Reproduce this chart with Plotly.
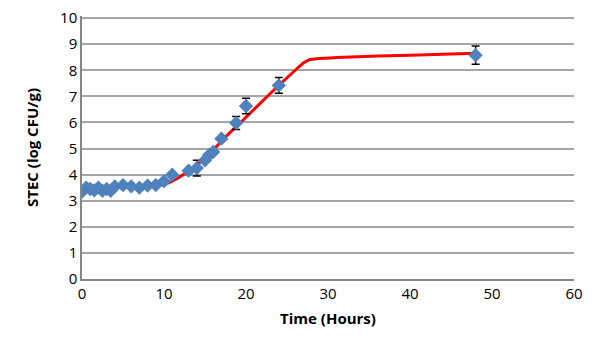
import plotly.graph_objects as go

# Observed data (time in hours, log CFU/g)
obs_time = [0, 0.5, 1, 1.5, 2, 2.5, 3, 3.5, 4, 5, 6, 7, 8, 9, 10, 11,
            13, 14, 15, 15.5, 16, 17, 18.8, 20, 24, 48]
obs_value = [3.35, 3.5, 3.45, 3.4, 3.5, 3.38, 3.45, 3.38, 3.55, 3.6, 3.55, 3.5, 3.58, 3.6, 3.75, 4.0,
             4.15, 4.25, 4.55, 4.75, 4.87, 5.38, 5.98, 6.63, 7.42, 8.58]
obs_err = [0.05, 0.05, 0.05, 0.05, 0.05, 0.05, 0.05, 0.05, 0.05, 0.05, 0.05, 0.05, 0.05, 0.05, 0.05, 0.05,
           0.05, 0.3, 0.05, 0.05, 0.05, 0.05, 0.25, 0.3, 0.3, 0.35]

# Fitted curve
fit_time = [0, 5, 8, 10, 11, 12, 13, 14, 15, 16, 18, 20, 22, 24, 26, 27, 27.5, 28, 29, 32, 40, 48]
fit_value = [3.52, 3.53, 3.55, 3.62, 3.75, 3.93, 4.13, 4.37, 4.65, 4.95, 5.6, 6.2, 6.82, 7.42, 8.0,
             8.28, 8.37, 8.42, 8.45, 8.5, 8.58, 8.65]

x_ticks = [0, 10, 20, 30, 40, 50, 60]
y_ticks = list(range(0, 11))

FONT = "Open Sans"

fig = go.Figure()
fig.add_trace(go.Scatter(
    x=fit_time, y=fit_value, mode="lines",
    line=dict(color="#FF0000", width=3, shape="spline", smoothing=0.6),
    showlegend=False, hoverinfo="skip"))
fig.add_trace(go.Scatter(
    x=obs_time, y=obs_value, mode="markers",
    marker=dict(symbol="diamond", size=11, color="#4F81BD"),
    error_y=dict(type="data", array=obs_err, color="black", thickness=1.5, width=4),
    showlegend=False))

fig.update_layout(
    width=600, height=359,
    margin=dict(l=74, r=34, t=8, b=88, autoexpand=False),
    paper_bgcolor="white", plot_bgcolor="white",
    font=dict(family=FONT, size=15, color="black"),
    xaxis=dict(range=[0, 60], tickvals=x_ticks, showgrid=False, zeroline=False, automargin=False,
               showline=True, linecolor="#868686", linewidth=1.5, ticks="",
               tickfont=dict(size=15), ticklabeloverflow="allow",
               title=dict(text="<b>Time (Hours)</b>", font=dict(size=15), standoff=12)),
    yaxis=dict(range=[0, 10.08], tickvals=y_ticks, showgrid=True, gridcolor="#A6A6A6", gridwidth=1.5,
               zeroline=False, showline=True, linecolor="#868686", linewidth=1.5, ticks="",
               tickfont=dict(size=15), automargin=False, ticklabeloverflow="allow",
               title=dict(text="<b>STEC (log CFU/g)</b>", font=dict(size=15), standoff=18)),
)

fig.write_html("out.html")
